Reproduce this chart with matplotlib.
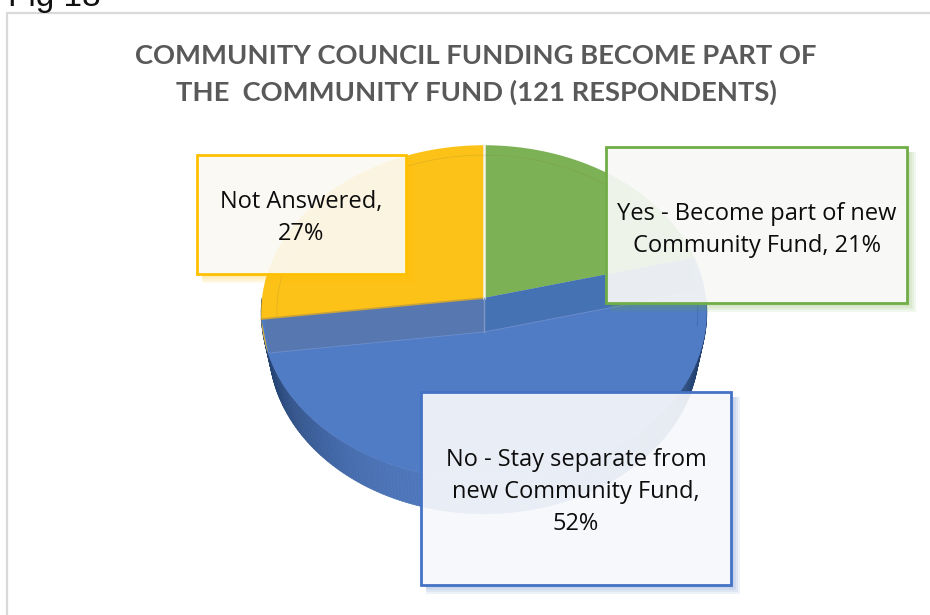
import numpy as np
import matplotlib
matplotlib.use('Agg')
import matplotlib.pyplot as plt
from matplotlib.colors import to_rgb
from matplotlib.patches import Polygon, Rectangle
from matplotlib.transforms import Affine2D

# 数据
categories = ['Yes - Become part of new\nCommunity Fund, 21%',
              'No - Stay separate from\nnew Community Fund,\n52%',
              'Not Answered,\n27%']
values = [21, 52, 27]
colors = ['#7CB155', '#507BC5', '#FDC218']
borders = ['#70AD47', '#4472C4', '#FFC000']
title_lines = ['COMMUNITY COUNCIL FUNDING BECOME PART OF',
               'THE  COMMUNITY FUND (121 RESPONDENTS)']

# 饼图的透视参数 (像素)
px, py = 484, 298
rx, ry = 222, 166
k = 0.0866
depth = 34


def project(pts):
    # 单位圆 -> 屏幕坐标
    w = 1 + k * pts[:, 1]
    return np.column_stack([px + rx * pts[:, 0] / w, py - ry * pts[:, 1] / w])


def base(pts):
    # 底面比顶面略窄
    out = project(pts) + [0, depth]
    out[:, 0] = px + (out[:, 0] - px) * 0.965
    return out


def ring(a1, a2, r=1.0, n=120):
    t = np.radians(np.linspace(a1, a2, n))
    return np.column_stack([r * np.cos(t), r * np.sin(t)])


def unit(a):
    return np.array([[np.cos(np.radians(a)), np.sin(np.radians(a))]])


def mix(c, other, f):
    c, other = np.array(to_rgb(c)), np.array(to_rgb(other))
    return tuple(c * (1 - f) + other * f)


fig = plt.figure(figsize=(9.3, 6.15), dpi=100)
ax = fig.add_axes([0, 0, 1, 1])
ax.set_xlim(0, 930)
ax.set_ylim(615, 0)
ax.axis('off')

# 外框
ax.plot([930, 7, 7], [13, 13, 615], color='#D9D9D9', lw=1.6, zorder=1)
ax.text(8, 6, 'Fig 18', fontsize=24, family='Liberation Sans', color='#111111', va='baseline')

# 角度由数据算出
frac = np.array(values) / sum(values) * 360
stops = 90 - np.cumsum(np.r_[0, frac])

# 侧面
low = ring(180, 360, n=200)
top_edge = project(low)
bot_edge = base(low)
for i in range(len(low) - 1):
    s = abs(low[i, 0])
    col = mix('#4F78BD', '#23406F', min(1, s ** 3 * 1.1))
    quad = np.vstack([top_edge[i:i + 2], bot_edge[i:i + 2][::-1]])
    ax.add_patch(Polygon(quad, fc=col, ec=col, lw=0.5, zorder=2))

# 顶面: 用 pie 得到扇形, 再做透视
tmp_fig, tmp_ax = plt.subplots()
wedges, _ = tmp_ax.pie(values, colors=colors, startangle=90, counterclock=False)
for w, c in zip(wedges, colors):
    poly = w.get_path().to_polygons(Affine2D().scale(400))[0] / 400
    ax.add_patch(Polygon(project(poly), fc=c, ec='none', zorder=3))
plt.close(tmp_fig)

# 切面的影子带
apex = project(np.array([[0.0, 0.0]]))
right = project(unit(stops[1]))
left = project(unit(stops[2]))
top = project(unit(90))
d = np.array([0, depth])
sliver = project(ring(stops[2] + 360, stops[2] + 372, n=20))
ax.add_patch(Polygon(sliver, fc='#DDB236', ec='none', zorder=3.5))
ax.add_patch(Polygon(np.vstack([left + [3, 0], apex, apex + d, left + [8, depth]]), fc='#5677AF', ec='none', zorder=4))
ax.add_patch(Polygon(np.vstack([apex, right, right + d, apex + d]), fc='#4472B3', ec='none', zorder=4))
ghost = np.vstack([left + d + [8, 0], apex + d, right + d])
ax.plot(ghost[:, 0], ghost[:, 1], color='#6A8CCB', lw=0.7, zorder=5)
edge = np.vstack([left, apex])
ax.plot(edge[:, 0], edge[:, 1], color='#C9A23A', lw=1.2, zorder=5)
seam = np.vstack([top, apex])
ax.plot(seam[:, 0], seam[:, 1], color='#F5F3EA', lw=1.8, zorder=5)
seam2 = np.vstack([apex, apex + d])
ax.plot(seam2[:, 0], seam2[:, 1], color='#7F97C4', lw=1.0, zorder=5)

# 顶面内圈的细线
inner = project(ring(14, 187, r=0.93, n=150))
ax.plot(inner[:, 0], inner[:, 1], color='#8A7A40', lw=0.5, alpha=0.25, zorder=5)
inner2 = project(ring(-10, 14, r=0.96, n=40))
ax.plot(inner2[:, 0], inner2[:, 1], color='#2F5597', lw=0.5, alpha=0.5, zorder=5)

# 标题
for line, y in zip(title_lines, [56, 92]):
    ax.text(476, y, line, ha='center', va='center', fontsize=19.7, fontweight='bold',
            family='Lato', color='#595959', zorder=6)

# 标签框
boxes = [(606, 147, 301, 156), (421, 392, 310, 193), (197, 155, 209, 119)]
text_y = [230, 492, 218]
fills = ['#F8F9F7', '#F7F8FB', '#FBF9F3']
for cat, box, ty, b, f in zip(categories, boxes, text_y, borders, fills):
    x, y, w, h = box
    # 阴影只画在框外
    for s in [9, 7, 5, 3]:
        ax.add_patch(Rectangle((x + w, y + 5), s, h + s - 5, fc=b, ec='none', alpha=0.09, zorder=7))
        ax.add_patch(Rectangle((x + 5, y + h), w - 5, s, fc=b, ec='none', alpha=0.09, zorder=7))
    ax.add_patch(Rectangle((x, y), w, h, fc=f, ec='none', alpha=0.92, zorder=8))
    ax.add_patch(Rectangle((x, y), w, h, fc='none', ec=b, lw=2, zorder=9))
    ax.text(x + w / 2, ty, cat, ha='center', va='center', fontsize=17, family='Open Sans',
            color='#0D0D0D', linespacing=1.42, zorder=10)

fig.savefig('out.png', dpi=100)
